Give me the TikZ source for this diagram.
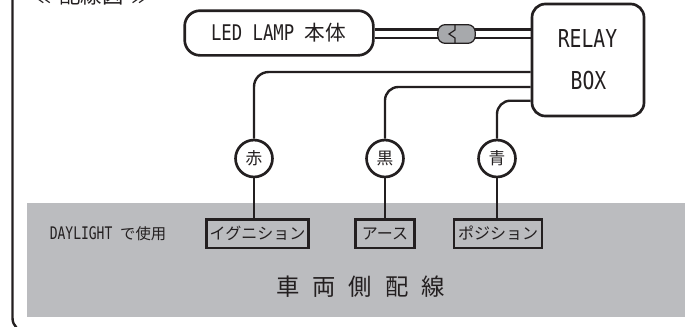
\documentclass[tikz,border=0pt]{standalone}
\usepackage{fontspec}
\setmainfont{Noto Sans CJK JP}
\newfontfamily\latinf[FakeStretch=0.8]{DejaVu Sans Mono}
\newfontfamily\latinn[FakeStretch=0.75]{DejaVu Sans Mono}
\definecolor{ink}{HTML}{231F20}
\definecolor{band}{HTML}{BBBCBF}
\definecolor{plug}{HTML}{A7A9AC}
\tikzset{
  px/.style={x=0.75pt,y=-0.75pt},
  wire/.style={draw=ink,line width=1.8pt},
  roundbox/.style={draw=ink,line width=2pt,fill=white,text=ink,inner sep=0pt,align=center},
  colorcirc/.style={circle,draw=ink,line width=2pt,fill=white,text=ink,minimum size=27.7pt,inner sep=0pt,font=\fontsize{12.5}{12.5}\selectfont},
  termbox/.style={draw=ink,line width=2.2pt,fill=band,text=ink,inner sep=0pt,minimum height=21.7pt,font=\fontsize{12}{12}\selectfont},
  txt/.style={text=ink,inner sep=0pt},
}
\begin{document}
\begin{tikzpicture}[px]
\useasboundingbox (0,0) rectangle (685,326);
\begin{scope}
\clip (0,0) rectangle (685,326);
\draw[draw=ink,line width=1.8pt,rounded corners=10.5pt] (12.5,-20) -- (12.5,332) -- (700,332);
\fill[band] (27,203) rectangle (684.5,316.7);
\node[txt,font=\fontsize{16}{16}\selectfont] (title) at (91.5,-5) {≪\hspace{0.15em} 配線図 \hspace{0.15em}≫};
\end{scope}
\node[roundbox,rounded corners=11.5pt,minimum width=141.5pt,minimum height=33.5pt] (lamp) at (279,33) {};
\node[txt,font=\fontsize{15.5}{16}\selectfont] (lamptxt) at (278.5,33) {{\latinf\fontsize{16.2}{16}\selectfont LED LAMP }本体};
\node[roundbox,minimum width=84pt,minimum height=84pt,rounded corners=10pt] (relay) at (588,60) {};
\node[txt,font=\latinf\fontsize{18.5}{18}\selectfont] (r1) at (587.5,39) {RELAY};
\node[txt,font=\latinf\fontsize{18.5}{18}\selectfont] (r2) at (588.5,81) {BOX};
% double wires
\coordinate (a1) at (lamp.east|-0,29.3);
\coordinate (a2) at (lamp.east|-0,37.7);
\coordinate (b1) at (relay.west|-0,29.3);
\coordinate (b2) at (relay.west|-0,37.7);
\draw[wire] (a1) -- (b1);
\draw[wire] (a2) -- (b2);
\node[draw=ink,line width=0.9pt,fill=plug,rounded corners=5.5pt,minimum width=28pt,minimum height=14pt,inner sep=0pt] (conn) at (456.5,34) {};
\coordinate (ct) at (455,24.7);
\coordinate (cb) at (455,43.3);
\draw[draw=ink,line width=0.9pt] (ct) -- (455,30) -- (449,34) -- (455,38) -- (cb);
% circles
\node[colorcirc] (red) at (254,158.5) {赤};
\node[colorcirc] (blk) at (385,158.5) {黒};
\node[colorcirc] (blu) at (497,158.5) {青};
\node[termbox,minimum width=77pt] (ign) at (257.5,233.5) {イグニション};
\node[termbox,minimum width=44pt] (gnd) at (385,233.5) {アース};
\node[termbox,minimum width=66pt] (pos) at (498,233.5) {ポジション};
\draw[wire,rounded corners=11pt] (relay.west|-0,72) -- (254,72) -- (red.north);
\draw[wire,rounded corners=10pt] (relay.west|-0,87) -- (385,87) -- (blk.north);
\draw[wire,rounded corners=10pt] (relay.west|-0,100.7) -- (497,100.7) -- (blu.north);
\draw[wire] (red.south) -- (ign.north-|red);
\draw[wire] (blk.south) -- (gnd.north);
\draw[wire] (blu.south) -- (blu.south|-pos.north);
\node[txt,font=\fontsize{11.5}{11}\selectfont] (day) at (108,234) {{\latinn\fontsize{13}{12}\selectfont DAYLIGHT }で使用};
\node[txt,font=\fontsize{17.5}{18}\selectfont] (side) at (360.5,287) {車\hspace{0.55em}両\hspace{0.55em}側\hspace{0.55em}配\hspace{0.55em}線};
\end{tikzpicture}
\end{document}
